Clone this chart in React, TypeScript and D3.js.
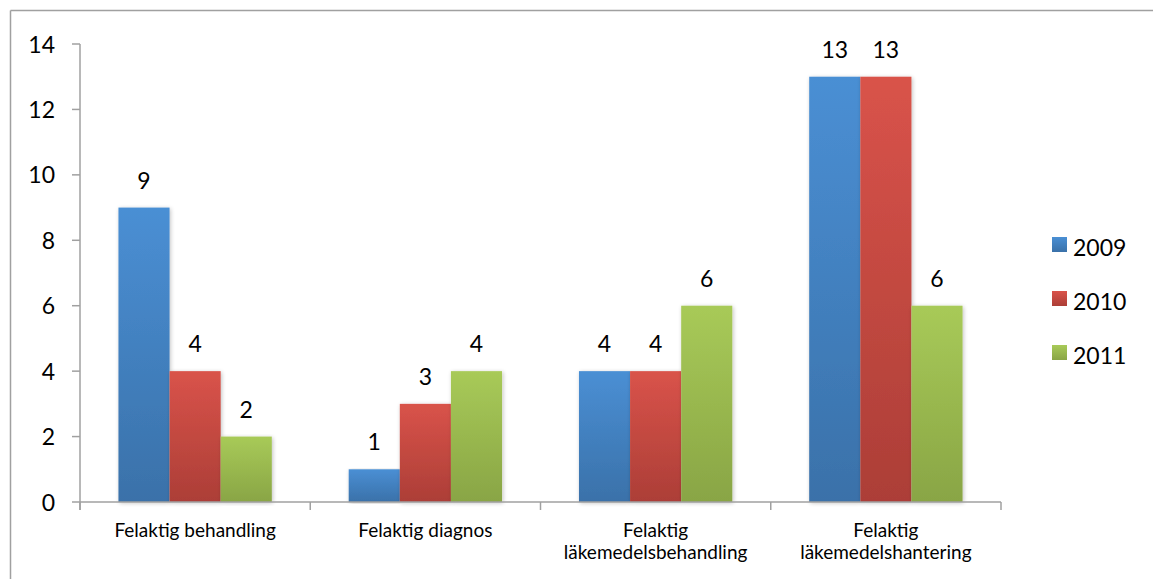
import React from "react";
import * as d3 from "d3";

const categories = [
  ["Felaktig behandling"],
  ["Felaktig diagnos"],
  ["Felaktig", "läkemedelsbehandling"],
  ["Felaktig", "läkemedelshantering"],
];
const seriesNames = ["2009", "2010", "2011"];
const values2009 = [9, 1, 4, 13];
const values2010 = [4, 3, 4, 13];
const values2011 = [2, 4, 6, 6];
const yTicks = [0, 2, 4, 6, 8, 10, 12, 14];

const seriesValues = [values2009, values2010, values2011];
const gradTop = ["#4A8FD4", "#D9534A", "#A8CA58"];
const gradBottom = ["#3A71A9", "#AC3E37", "#89A545"];

const FONT = "Lato, 'Open Sans', sans-serif";

export default function App() {
  const W = 1153, H = 579;
  const x0 = 80, x1 = 1001, yTop = 44, yBot = 502;
  const y = d3.scaleLinear().domain([0, 14]).range([yBot, yTop]);
  const xBand = d3.scaleBand().domain(d3.range(categories.length).map(String)).range([x0, x1]).paddingInner(0).paddingOuter(0);
  const bw = xBand.bandwidth();
  const groupPad = 0.167;
  const xInner = d3.scaleBand().domain(seriesNames).range([bw * groupPad, bw * (1 - groupPad)]);

  return (
    <svg width={W} height={H} style={{ position: "absolute", left: 0, top: 0, background: "#fff" }}>
      <defs>
        {seriesNames.map((s, i) => (
          <linearGradient key={s} id={`g${i}`} x1="0" y1="0" x2="0" y2="1">
            <stop offset="0" stopColor={gradTop[i]} />
            <stop offset="1" stopColor={gradBottom[i]} />
          </linearGradient>
        ))}
        <filter id="sh" x="-20%" y="-5%" width="140%" height="110%">
          <feGaussianBlur in="SourceAlpha" stdDeviation="2" />
          <feOffset dx="1" dy="1" />
          <feComponentTransfer><feFuncA type="linear" slope="0.25" /></feComponentTransfer>
          <feMerge><feMergeNode /><feMergeNode in="SourceGraphic" /></feMerge>
        </filter>
      </defs>
      <rect x={0} y={0} width={W} height={H} fill="#fff" />
      <line x1={10.5} y1={10.5} x2={W} y2={10.5} stroke="#A0A0A0" strokeWidth={1.5} />
      <line x1={10.5} y1={10.5} x2={10.5} y2={H} stroke="#A0A0A0" strokeWidth={1.5} />

      <line x1={x0} y1={yTop} x2={x0} y2={yBot + 8} stroke="#A0A0A0" strokeWidth={1.5} />
      {yTicks.map((t) => (
        <g key={t}>
          <line x1={x0 - 8} x2={x0} y1={y(t)} y2={y(t)} stroke="#A0A0A0" strokeWidth={1.5} />
          <text x={55} y={y(t) + 8.5} textAnchor="end" fontFamily={FONT} fontSize={23} fill="#000">{t}</text>
        </g>
      ))}

      {categories.map((c, ci) => (
        <g key={ci} transform={`translate(${xBand(String(ci))},0)`}>
          {seriesNames.map((s, si) => {
            const v = seriesValues[si][ci];
            const bx = xInner(s)!;
            return (
              <g key={s}>
                <rect x={bx} y={y(v)} width={xInner.bandwidth()} height={yBot - y(v)} fill={`url(#g${si})`} filter="url(#sh)" />
                <text x={bx + xInner.bandwidth() / 2} y={y(v) - 19} textAnchor="middle" fontFamily={FONT} fontSize={23} fill="#000">{v}</text>
              </g>
            );
          })}
        </g>
      ))}

      <line x1={x0} y1={yBot} x2={x1} y2={yBot} stroke="#A0A0A0" strokeWidth={1.5} />
      {d3.range(categories.length + 1).map((i) => (
        <line key={i} x1={x0 + i * bw} x2={x0 + i * bw} y1={yBot} y2={yBot + 8} stroke="#A0A0A0" strokeWidth={1.5} />
      ))}
      {categories.map((c, ci) => (
        <text key={ci} x={xBand(String(ci))! + bw / 2} y={537} textAnchor="middle" fontFamily={FONT} fontSize={19} fill="#000">
          {c.map((line, li) => (
            <tspan key={li} x={xBand(String(ci))! + bw / 2} dy={li === 0 ? 0 : 22}>{line}</tspan>
          ))}
        </text>
      ))}

      {seriesNames.map((s, i) => (
        <g key={s} transform={`translate(1052, ${237 + i * 54})`}>
          <rect x={0} y={0} width={15} height={15} fill={`url(#g${i})`} />
          <text x={21} y={19} fontFamily={FONT} fontSize={23} fill="#000">{s}</text>
        </g>
      ))}
    </svg>
  );
}
